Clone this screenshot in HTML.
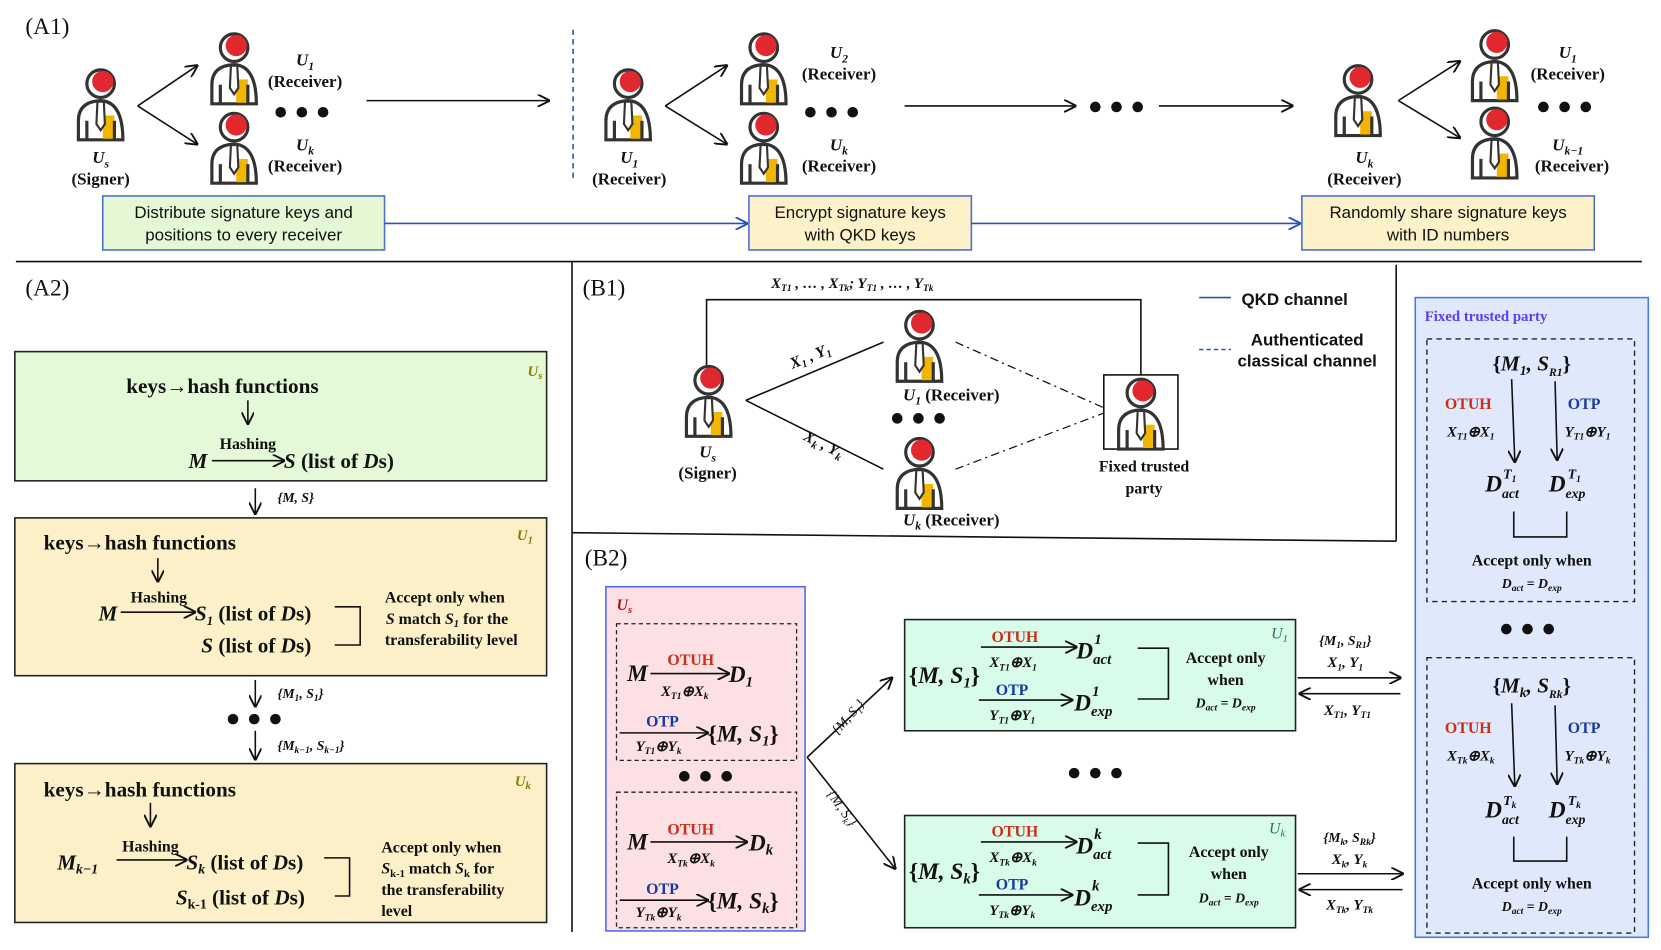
<!DOCTYPE html>
<html><head><meta charset="utf-8"><style>
html,body{margin:0;padding:0;background:#fff}
svg{display:block}
.s{font-family:"Liberation Serif",serif}
.b{font-weight:bold}
.i{font-style:italic}
.sa{font-family:"Liberation Sans",sans-serif}
</style></head><body>
<svg width="1661" height="950" viewBox="0 0 1568 897" preserveAspectRatio="none" xmlns="http://www.w3.org/2000/svg">
<defs>
<marker id="ar" viewBox="0 0 10 10" refX="9" refY="5" markerWidth="8" markerHeight="8" orient="auto-start-reverse"><path d="M0,0 L10,5 L0,10" fill="none" stroke="#111" stroke-width="1.5"/></marker>
<marker id="ab" viewBox="0 0 10 10" refX="9" refY="5" markerWidth="8" markerHeight="8" orient="auto"><path d="M0,0 L10,5 L0,10" fill="none" stroke="#2a4fc0" stroke-width="1.5"/></marker>
<g id="p">
<path d="M4,70 V52 Q4,34 25,33 Q46,34 46,70 Z" fill="#fff" stroke="#333" stroke-width="3"/>
<rect x="27" y="47" width="11" height="22" fill="#f2b600"/>
<line x1="12" y1="52" x2="12" y2="70" stroke="#333" stroke-width="3"/>
<line x1="38" y1="52" x2="38" y2="70" stroke="#333" stroke-width="3"/>
<path d="M22,34 L28,34 L29,55 L25,61 L21,55 Z" fill="#fff" stroke="#333" stroke-width="2"/>
<circle cx="25" cy="17" r="13" fill="#fff" stroke="#333" stroke-width="3"/>
<circle cx="27" cy="15" r="10" fill="#e0282e"/>
</g>
</defs>

<g class="s" font-size="16" fill="#111">
<!-- A1 -->
<text x="24" y="32" font-size="22">(A1)</text>
<use href="#p" x="70" y="62"/>
<text x="95" y="154" text-anchor="middle" class="b i">U<tspan font-size="11" dy="4">s</tspan></text>
<text x="95" y="174" text-anchor="middle" class="b">(Signer)</text>
<line x1="130" y1="100" x2="186" y2="62" stroke="#111" stroke-width="1.5" marker-end="url(#ar)"/>
<line x1="130" y1="100" x2="186" y2="136" stroke="#111" stroke-width="1.5" marker-end="url(#ar)"/>
<use href="#p" x="196" y="28"/>
<use href="#p" x="196" y="103"/>
<text x="288" y="62" text-anchor="middle" class="b i">U<tspan font-size="11" dy="4">1</tspan></text>
<text x="288" y="82" text-anchor="middle" class="b">(Receiver)</text>
<text x="288" y="142" text-anchor="middle" class="b i">U<tspan font-size="11" dy="4">k</tspan></text>
<text x="288" y="162" text-anchor="middle" class="b">(Receiver)</text>
<g fill="#111"><circle cx="265" cy="106" r="5"/><circle cx="285" cy="106" r="5"/><circle cx="305" cy="106" r="5"/></g>
<line x1="346" y1="95" x2="518" y2="95" stroke="#111" stroke-width="1.5" marker-end="url(#ar)"/>
<line x1="541" y1="28" x2="541" y2="172" stroke="#2a4fc0" stroke-width="1.5" stroke-dasharray="5,4"/>
<use href="#p" x="568" y="62"/>
<text x="594" y="154" text-anchor="middle" class="b i">U<tspan font-size="11" dy="4">1</tspan></text>
<text x="594" y="174" text-anchor="middle" class="b">(Receiver)</text>
<line x1="628" y1="100" x2="686" y2="62" stroke="#111" stroke-width="1.5" marker-end="url(#ar)"/>
<line x1="628" y1="100" x2="686" y2="136" stroke="#111" stroke-width="1.5" marker-end="url(#ar)"/>
<use href="#p" x="696" y="28"/>
<use href="#p" x="696" y="103"/>
<text x="792" y="55" text-anchor="middle" class="b i">U<tspan font-size="11" dy="4">2</tspan></text>
<text x="792" y="75" text-anchor="middle" class="b">(Receiver)</text>
<text x="792" y="142" text-anchor="middle" class="b i">U<tspan font-size="11" dy="4">k</tspan></text>
<text x="792" y="162" text-anchor="middle" class="b">(Receiver)</text>
<g fill="#111"><circle cx="765" cy="106" r="5"/><circle cx="785" cy="106" r="5"/><circle cx="805" cy="106" r="5"/></g>
<line x1="854" y1="100" x2="1015" y2="100" stroke="#111" stroke-width="1.5" marker-end="url(#ar)"/>
<g fill="#111"><circle cx="1034" cy="101" r="5"/><circle cx="1054" cy="101" r="5"/><circle cx="1074" cy="101" r="5"/></g>
<line x1="1094" y1="100" x2="1220" y2="100" stroke="#111" stroke-width="1.5" marker-end="url(#ar)"/>
<use href="#p" x="1257" y="58"/>
<text x="1288" y="154" text-anchor="middle" class="b i">U<tspan font-size="11" dy="4">k</tspan></text>
<text x="1288" y="174" text-anchor="middle" class="b">(Receiver)</text>
<line x1="1320" y1="95" x2="1378" y2="58" stroke="#111" stroke-width="1.5" marker-end="url(#ar)"/>
<line x1="1320" y1="95" x2="1378" y2="130" stroke="#111" stroke-width="1.5" marker-end="url(#ar)"/>
<use href="#p" x="1386" y="25"/>
<use href="#p" x="1386" y="98"/>
<text x="1480" y="55" text-anchor="middle" class="b i">U<tspan font-size="11" dy="4">1</tspan></text>
<text x="1480" y="75" text-anchor="middle" class="b">(Receiver)</text>
<text x="1480" y="142" text-anchor="middle" class="b i">U<tspan font-size="11" dy="4">k−1</tspan></text>
<text x="1484" y="162" text-anchor="middle" class="b">(Receiver)</text>
<g fill="#111"><circle cx="1457" cy="101" r="5"/><circle cx="1477" cy="101" r="5"/><circle cx="1497" cy="101" r="5"/></g>

<rect x="97" y="185" width="266" height="51" fill="#e4f8d6" stroke="#4a6fd0" stroke-width="1.5"/>
<text class="sa" font-size="16" x="230" y="206" text-anchor="middle">Distribute signature keys and</text>
<text class="sa" font-size="16" x="230" y="227" text-anchor="middle">positions to every receiver</text>
<line x1="363" y1="211" x2="705" y2="211" stroke="#2a4fc0" stroke-width="1.5" marker-end="url(#ab)"/>
<rect x="707" y="185" width="210" height="51" fill="#fcf1c9" stroke="#4a6fd0" stroke-width="1.5"/>
<text class="sa" font-size="16" x="812" y="206" text-anchor="middle">Encrypt signature keys</text>
<text class="sa" font-size="16" x="812" y="227" text-anchor="middle">with QKD keys</text>
<line x1="917" y1="211" x2="1227" y2="211" stroke="#2a4fc0" stroke-width="1.5" marker-end="url(#ab)"/>
<rect x="1229" y="185" width="276" height="51" fill="#fcf1c9" stroke="#4a6fd0" stroke-width="1.5"/>
<text class="sa" font-size="16" x="1367" y="206" text-anchor="middle">Randomly share signature keys</text>
<text class="sa" font-size="16" x="1367" y="227" text-anchor="middle">with ID numbers</text>

<line x1="15" y1="247" x2="1550" y2="247" stroke="#111" stroke-width="1.5"/>
<line x1="540" y1="247" x2="540" y2="880" stroke="#111" stroke-width="1.5"/>
<line x1="540" y1="503" x2="1318" y2="511" stroke="#111" stroke-width="1.5"/>
<line x1="1318" y1="250" x2="1318" y2="511" stroke="#111" stroke-width="1.5"/>

<!-- A2 -->
<text x="24" y="279" font-size="22">(A2)</text>
<rect x="14" y="332" width="502" height="122" fill="#e4f9d8" stroke="#222" stroke-width="1.5"/>
<text x="498" y="355" class="b i" font-size="14" fill="#8a7a00">U<tspan font-size="10" dy="3">s</tspan></text>
<text x="210" y="371" class="b" font-size="20" text-anchor="middle">keys→hash functions</text>
<line x1="234" y1="378" x2="234" y2="400" stroke="#111" stroke-width="1.5" marker-end="url(#ar)"/>
<text x="234" y="424" class="b" font-size="15" text-anchor="middle">Hashing</text>
<text x="178" y="442" class="b i" font-size="20">M</text>
<line x1="200" y1="435" x2="268" y2="435" stroke="#111" stroke-width="1.5" marker-end="url(#ar)"/>
<text x="268" y="442" class="b" font-size="20"><tspan class="i">S</tspan> (list of <tspan class="i">D</tspan>s)</text>
<line x1="241" y1="461" x2="241" y2="485" stroke="#111" stroke-width="1.5" marker-end="url(#ar)"/>
<text x="262" y="474" class="b i" font-size="13">{M, S}</text>

<rect x="14" y="489" width="502" height="149" fill="#fcf0c9" stroke="#222" stroke-width="1.5"/>
<text x="488" y="510" class="b i" font-size="14" fill="#8a7a00">U<tspan font-size="10" dy="3">1</tspan></text>
<text x="132" y="519" class="b" font-size="20" text-anchor="middle">keys→hash functions</text>
<line x1="149" y1="527" x2="149" y2="549" stroke="#111" stroke-width="1.5" marker-end="url(#ar)"/>
<text x="150" y="569" class="b" font-size="15" text-anchor="middle">Hashing</text>
<text x="93" y="586" class="b i" font-size="20">M</text>
<line x1="114" y1="578" x2="184" y2="578" stroke="#111" stroke-width="1.5" marker-end="url(#ar)"/>
<text x="184" y="586" class="b" font-size="20"><tspan class="i">S<tspan font-size="12" dy="4">1</tspan></tspan><tspan dy="-4"> (list of </tspan><tspan class="i">D</tspan>s)</text>
<text x="190" y="616" class="b" font-size="20"><tspan class="i">S</tspan> (list of <tspan class="i">D</tspan>s)</text>
<path d="M316,573 H340 V609 H316" fill="none" stroke="#111" stroke-width="1.5"/>
<text x="420" y="569" class="b" font-size="15" text-anchor="middle">Accept only when</text>
<text x="422" y="589" class="b" font-size="15" text-anchor="middle"><tspan class="i">S</tspan> match <tspan class="i">S<tspan font-size="10" dy="3">1</tspan></tspan><tspan dy="-3"> for the</tspan></text>
<text x="426" y="609" class="b" font-size="15" text-anchor="middle">transferability level</text>
<line x1="241" y1="642" x2="241" y2="667" stroke="#111" stroke-width="1.5" marker-end="url(#ar)"/>
<text x="262" y="659" class="b i" font-size="13">{M<tspan font-size="9" dy="3">1</tspan><tspan dy="-3">, S</tspan><tspan font-size="9" dy="3">1</tspan><tspan dy="-3">}</tspan></text>
<g fill="#111"><circle cx="220" cy="679" r="5"/><circle cx="240" cy="679" r="5"/><circle cx="260" cy="679" r="5"/></g>
<line x1="241" y1="690" x2="241" y2="717" stroke="#111" stroke-width="1.5" marker-end="url(#ar)"/>
<text x="262" y="708" class="b i" font-size="13">{M<tspan font-size="9" dy="3">k−1</tspan><tspan dy="-3">, S</tspan><tspan font-size="9" dy="3">k−1</tspan><tspan dy="-3">}</tspan></text>

<rect x="14" y="721" width="502" height="150" fill="#fcf0c9" stroke="#222" stroke-width="1.5"/>
<text x="486" y="742" class="b i" font-size="14" fill="#8a7a00">U<tspan font-size="10" dy="3">k</tspan></text>
<text x="132" y="752" class="b" font-size="20" text-anchor="middle">keys→hash functions</text>
<line x1="142" y1="758" x2="142" y2="780" stroke="#111" stroke-width="1.5" marker-end="url(#ar)"/>
<text x="142" y="804" class="b" font-size="15" text-anchor="middle">Hashing</text>
<text x="54" y="821" class="b i" font-size="20">M<tspan font-size="13" dy="4">k−1</tspan></text>
<line x1="110" y1="812" x2="176" y2="812" stroke="#111" stroke-width="1.5" marker-end="url(#ar)"/>
<text x="176" y="821" class="b" font-size="20"><tspan class="i">S<tspan font-size="13" dy="4">k</tspan></tspan><tspan dy="-4"> (list of </tspan><tspan class="i">D</tspan>s)</text>
<text x="166" y="854" class="b" font-size="20"><tspan class="i">S</tspan><tspan font-size="13" dy="4">k-1</tspan><tspan dy="-4"> (list of </tspan><tspan class="i">D</tspan>s)</text>
<path d="M306,810 H330 V846 H316" fill="none" stroke="#111" stroke-width="1.5"/>
<text x="360" y="805" class="b" font-size="15">Accept only when</text>
<text x="360" y="825" class="b" font-size="15"><tspan class="i">S</tspan><tspan font-size="10" dy="3">k-1</tspan><tspan dy="-3"> match </tspan><tspan class="i">S</tspan><tspan font-size="10" dy="3">k</tspan><tspan dy="-3"> for</tspan></text>
<text x="360" y="845" class="b" font-size="15">the transferability</text>
<text x="360" y="865" class="b" font-size="15">level</text>

<!-- B1 -->
<text x="550" y="279" font-size="22">(B1)</text>
<text x="728" y="272" class="b i" font-size="14">X<tspan font-size="9" dy="3">T1</tspan><tspan dy="-3"> , … , X</tspan><tspan font-size="9" dy="3">Tk</tspan><tspan dy="-3">; Y</tspan><tspan font-size="9" dy="3">T1</tspan><tspan dy="-3"> , … , Y</tspan><tspan font-size="9" dy="3">Tk</tspan></text>
<polyline points="667,345 667,283 1077,283 1077,355" fill="none" stroke="#111" stroke-width="1.5"/>
<use href="#p" x="644" y="342"/>
<text x="668" y="432" text-anchor="middle" class="b i">U<tspan font-size="11" dy="4">s</tspan></text>
<text x="668" y="452" text-anchor="middle" class="b">(Signer)</text>
<line x1="704" y1="378" x2="834" y2="323" stroke="#111" stroke-width="1.5"/>
<line x1="704" y1="378" x2="834" y2="443" stroke="#111" stroke-width="1.5"/>
<text x="745" y="343" class="b i" font-size="15" transform="rotate(-22 760 338)">X<tspan font-size="10" dy="3">1</tspan><tspan dy="-3"> , Y</tspan><tspan font-size="10" dy="3">1</tspan></text>
<text x="752" y="422" class="b i" font-size="15" transform="rotate(27 770 430)">X<tspan font-size="10" dy="3">k</tspan><tspan dy="-3"> , Y</tspan><tspan font-size="10" dy="3">k</tspan></text>
<use href="#p" x="843" y="290"/>
<use href="#p" x="843" y="410"/>
<text x="898" y="378" text-anchor="middle" class="b i">U<tspan font-size="11" dy="4">1</tspan><tspan class="b" font-style="normal" font-size="16" dy="-4"> (Receiver)</tspan></text>
<text x="898" y="496" text-anchor="middle" class="b i">U<tspan font-size="11" dy="4">k</tspan><tspan class="b" font-style="normal" font-size="16" dy="-4"> (Receiver)</tspan></text>
<g fill="#111"><circle cx="847" cy="395" r="5"/><circle cx="867" cy="395" r="5"/><circle cx="887" cy="395" r="5"/></g>
<line x1="902" y1="323" x2="1042" y2="385" stroke="#111" stroke-width="1.2" stroke-dasharray="8,4,2,4"/>
<line x1="902" y1="443" x2="1042" y2="390" stroke="#111" stroke-width="1.2" stroke-dasharray="8,4,2,4"/>
<rect x="1042" y="354" width="70" height="70" fill="#fff" stroke="#111" stroke-width="1.5"/>
<use href="#p" x="1052" y="354"/>
<text x="1080" y="445" text-anchor="middle" class="b" font-size="15">Fixed trusted</text>
<text x="1080" y="466" text-anchor="middle" class="b" font-size="15">party</text>
<line x1="1132" y1="281" x2="1162" y2="281" stroke="#2a4fc0" stroke-width="1.5"/>
<text x="1172" y="288" class="sa b" font-size="16">QKD channel</text>
<line x1="1132" y1="330" x2="1162" y2="330" stroke="#2a4fc0" stroke-width="1.5" stroke-dasharray="4,3"/>
<text x="1234" y="326" class="sa b" font-size="16" text-anchor="middle">Authenticated</text>
<text x="1234" y="346" class="sa b" font-size="16" text-anchor="middle">classical channel</text>

<!-- fixed trusted party -->
<rect x="1336" y="281" width="220" height="604" fill="#dfe9fb" stroke="#4a7ae8" stroke-width="1.5"/>
<text x="1345" y="303" class="b" font-size="14" fill="#5a3ef0">Fixed trusted party</text>
<rect x="1347" y="320" width="196" height="248" fill="none" stroke="#222" stroke-width="1.3" stroke-dasharray="5,4"/>
<text x="1446" y="350" class="b i" font-size="20" text-anchor="middle"><tspan font-style="normal">{</tspan>M<tspan font-size="13" dy="4">1</tspan><tspan dy="-4">, S</tspan><tspan font-size="11" dy="5">R1</tspan><tspan dy="-5" font-style="normal">}</tspan></text>
<line x1="1427" y1="358" x2="1430" y2="436" stroke="#111" stroke-width="1.5" marker-end="url(#ar)"/>
<line x1="1468" y1="360" x2="1470" y2="434" stroke="#111" stroke-width="1.5" marker-end="url(#ar)"/>
<text x="1364" y="386" class="b" font-size="15" fill="#c8301c">OTUH</text>
<text x="1480" y="386" class="b" font-size="15" fill="#1a3aa0">OTP</text>
<text x="1366" y="412" class="b i" font-size="14">X<tspan font-size="9" dy="3">T1</tspan><tspan dy="-3">⊕X</tspan><tspan font-size="9" dy="3">1</tspan></text>
<text x="1477" y="412" class="b i" font-size="14">Y<tspan font-size="9" dy="3">T1</tspan><tspan dy="-3">⊕Y</tspan><tspan font-size="9" dy="3">1</tspan></text>
<text x="1402" y="464" class="b i" font-size="22">D<tspan font-size="13" dy="6">act</tspan></text>
<text x="1419" y="452" class="b i" font-size="13">T<tspan font-size="9" dy="3">1</tspan></text>
<text x="1462" y="464" class="b i" font-size="22">D<tspan font-size="13" dy="6">exp</tspan></text>
<text x="1480" y="452" class="b i" font-size="13">T<tspan font-size="9" dy="3">1</tspan></text>
<polyline points="1429,483 1429,507 1479,507 1479,483" fill="none" stroke="#111" stroke-width="1.5"/>
<text x="1446" y="534" class="b" font-size="15" text-anchor="middle">Accept only when</text>
<text x="1446" y="555" class="b i" font-size="13" text-anchor="middle">D<tspan font-size="9" dy="3">act</tspan><tspan dy="-3" font-style="normal"> = </tspan>D<tspan font-size="9" dy="3">exp</tspan></text>
<g fill="#111"><circle cx="1422" cy="594" r="5"/><circle cx="1442" cy="594" r="5"/><circle cx="1462" cy="594" r="5"/></g>
<rect x="1347" y="621" width="196" height="260" fill="none" stroke="#222" stroke-width="1.3" stroke-dasharray="5,4"/>
<text x="1446" y="654" class="b i" font-size="20" text-anchor="middle"><tspan font-style="normal">{</tspan>M<tspan font-size="13" dy="4">k</tspan><tspan dy="-4">, S</tspan><tspan font-size="11" dy="5">Rk</tspan><tspan dy="-5" font-style="normal">}</tspan></text>
<line x1="1427" y1="664" x2="1430" y2="742" stroke="#111" stroke-width="1.5" marker-end="url(#ar)"/>
<line x1="1468" y1="666" x2="1470" y2="740" stroke="#111" stroke-width="1.5" marker-end="url(#ar)"/>
<text x="1364" y="692" class="b" font-size="15" fill="#c8301c">OTUH</text>
<text x="1480" y="692" class="b" font-size="15" fill="#1a3aa0">OTP</text>
<text x="1366" y="718" class="b i" font-size="14">X<tspan font-size="9" dy="3">Tk</tspan><tspan dy="-3">⊕X</tspan><tspan font-size="9" dy="3">k</tspan></text>
<text x="1477" y="718" class="b i" font-size="14">Y<tspan font-size="9" dy="3">Tk</tspan><tspan dy="-3">⊕Y</tspan><tspan font-size="9" dy="3">k</tspan></text>
<text x="1402" y="772" class="b i" font-size="22">D<tspan font-size="13" dy="6">act</tspan></text>
<text x="1419" y="760" class="b i" font-size="13">T<tspan font-size="9" dy="3">k</tspan></text>
<text x="1462" y="772" class="b i" font-size="22">D<tspan font-size="13" dy="6">exp</tspan></text>
<text x="1480" y="760" class="b i" font-size="13">T<tspan font-size="9" dy="3">k</tspan></text>
<polyline points="1429,790 1429,813 1479,813 1479,790" fill="none" stroke="#111" stroke-width="1.5"/>
<text x="1446" y="839" class="b" font-size="15" text-anchor="middle">Accept only when</text>
<text x="1446" y="860" class="b i" font-size="13" text-anchor="middle">D<tspan font-size="9" dy="3">act</tspan><tspan dy="-3" font-style="normal"> = </tspan>D<tspan font-size="9" dy="3">exp</tspan></text>

<!-- B2 -->
<text x="552" y="534" font-size="22">(B2)</text>
<rect x="572" y="554" width="188" height="325" fill="#fde0e3" stroke="#4a6fe8" stroke-width="1.5"/>
<text x="582" y="576" class="b i" font-size="15" fill="#a01818">U<tspan font-size="10" dy="3">s</tspan></text>
<rect x="582" y="589" width="170" height="129" fill="none" stroke="#222" stroke-width="1.2" stroke-dasharray="4,3"/>
<text x="592" y="643" class="b i" font-size="22">M</text>
<line x1="614" y1="636" x2="688" y2="636" stroke="#111" stroke-width="1.5" marker-end="url(#ar)"/>
<text x="630" y="628" class="b" font-size="15" fill="#c8301c">OTUH</text>
<text x="624" y="657" class="b i" font-size="14">X<tspan font-size="9" dy="3">T1</tspan><tspan dy="-3">⊕X</tspan><tspan font-size="9" dy="3">k</tspan></text>
<text x="688" y="644" class="b i" font-size="22">D<tspan font-size="14" dy="4">1</tspan></text>
<line x1="585" y1="692" x2="668" y2="692" stroke="#111" stroke-width="1.5" marker-end="url(#ar)"/>
<text x="610" y="686" class="b" font-size="15" fill="#1a3aa0">OTP</text>
<text x="600" y="709" class="b i" font-size="14">Y<tspan font-size="9" dy="3">T1</tspan><tspan dy="-3">⊕Y</tspan><tspan font-size="9" dy="3">k</tspan></text>
<text x="668" y="700" class="b i" font-size="22"><tspan font-style="normal">{</tspan>M, S<tspan font-size="14" dy="4">1</tspan><tspan dy="-4" font-style="normal">}</tspan></text>
<g fill="#111"><circle cx="646" cy="733" r="5"/><circle cx="666" cy="733" r="5"/><circle cx="686" cy="733" r="5"/></g>
<rect x="582" y="748" width="170" height="128" fill="none" stroke="#222" stroke-width="1.2" stroke-dasharray="4,3"/>
<text x="592" y="802" class="b i" font-size="22">M</text>
<line x1="614" y1="795" x2="705" y2="795" stroke="#111" stroke-width="1.5" marker-end="url(#ar)"/>
<text x="630" y="788" class="b" font-size="15" fill="#c8301c">OTUH</text>
<text x="630" y="815" class="b i" font-size="14">X<tspan font-size="9" dy="3">Tk</tspan><tspan dy="-3">⊕X</tspan><tspan font-size="9" dy="3">k</tspan></text>
<text x="707" y="803" class="b i" font-size="22">D<tspan font-size="14" dy="4">k</tspan></text>
<line x1="585" y1="850" x2="668" y2="850" stroke="#111" stroke-width="1.5" marker-end="url(#ar)"/>
<text x="610" y="844" class="b" font-size="15" fill="#1a3aa0">OTP</text>
<text x="600" y="866" class="b i" font-size="14">Y<tspan font-size="9" dy="3">Tk</tspan><tspan dy="-3">⊕Y</tspan><tspan font-size="9" dy="3">k</tspan></text>
<text x="668" y="858" class="b i" font-size="22"><tspan font-style="normal">{</tspan>M, S<tspan font-size="14" dy="4">k</tspan><tspan dy="-4" font-style="normal">}</tspan></text>

<line x1="762" y1="715" x2="842" y2="640" stroke="#111" stroke-width="1.5" marker-end="url(#ar)"/>
<line x1="762" y1="715" x2="845" y2="820" stroke="#111" stroke-width="1.5" marker-end="url(#ar)"/>
<text x="780" y="690" class="i" font-size="13" transform="rotate(-48 790 680)">{M, S<tspan font-size="9" dy="3">1</tspan><tspan dy="-3">}</tspan></text>
<text x="770" y="760" class="i" font-size="13" transform="rotate(55 785 765)">{M, S<tspan font-size="9" dy="3">k</tspan><tspan dy="-3">}</tspan></text>

<g>
<rect x="854" y="585" width="369" height="105" fill="#d8fbea" stroke="#222" stroke-width="1.5"/>
<text x="1200" y="603" class="i" font-size="15" fill="#1f7a50">U<tspan font-size="10" dy="3">1</tspan></text>
<text x="858" y="645" class="b i" font-size="22"><tspan font-style="normal">{</tspan>M, S<tspan font-size="14" dy="4">1</tspan><tspan dy="-4" font-style="normal">}</tspan></text>
<line x1="926" y1="611" x2="1016" y2="611" stroke="#111" stroke-width="1.5" marker-end="url(#ar)"/>
<text x="936" y="606" class="b" font-size="15" fill="#c8301c">OTUH</text>
<text x="934" y="630" class="b i" font-size="14">X<tspan font-size="9" dy="3">T1</tspan><tspan dy="-3">⊕X</tspan><tspan font-size="9" dy="3">1</tspan></text>
<text x="1016" y="622" class="b i" font-size="22">D<tspan font-size="14" dy="5">act</tspan></text>
<text x="1033" y="608" class="b i" font-size="14">1</text>
<line x1="924" y1="661" x2="1012" y2="661" stroke="#111" stroke-width="1.5" marker-end="url(#ar)"/>
<text x="940" y="656" class="b" font-size="15" fill="#1a3aa0">OTP</text>
<text x="934" y="680" class="b i" font-size="14">Y<tspan font-size="9" dy="3">T1</tspan><tspan dy="-3">⊕Y</tspan><tspan font-size="9" dy="3">1</tspan></text>
<text x="1014" y="671" class="b i" font-size="22">D<tspan font-size="14" dy="5">exp</tspan></text>
<text x="1031" y="657" class="b i" font-size="14">1</text>
<path d="M1074,612 H1103 V660 H1074" fill="none" stroke="#111" stroke-width="1.5"/>
<text x="1157" y="626" class="b" font-size="15" text-anchor="middle">Accept only</text>
<text x="1157" y="647" class="b" font-size="15" text-anchor="middle">when</text>
<text x="1157" y="668" class="b i" font-size="13" text-anchor="middle">D<tspan font-size="9" dy="3">act</tspan><tspan dy="-3" font-style="normal"> = </tspan>D<tspan font-size="9" dy="3">exp</tspan></text>
</g>
<g fill="#111"><circle cx="1014" cy="730" r="5"/><circle cx="1034" cy="730" r="5"/><circle cx="1054" cy="730" r="5"/></g>
<g>
<rect x="854" y="770" width="369" height="106" fill="#d8fbea" stroke="#222" stroke-width="1.5"/>
<text x="1198" y="787" class="i" font-size="15" fill="#1f7a50">U<tspan font-size="10" dy="3">k</tspan></text>
<text x="858" y="830" class="b i" font-size="22"><tspan font-style="normal">{</tspan>M, S<tspan font-size="14" dy="4">k</tspan><tspan dy="-4" font-style="normal">}</tspan></text>
<line x1="926" y1="795" x2="1016" y2="795" stroke="#111" stroke-width="1.5" marker-end="url(#ar)"/>
<text x="936" y="790" class="b" font-size="15" fill="#c8301c">OTUH</text>
<text x="934" y="814" class="b i" font-size="14">X<tspan font-size="9" dy="3">Tk</tspan><tspan dy="-3">⊕X</tspan><tspan font-size="9" dy="3">k</tspan></text>
<text x="1016" y="806" class="b i" font-size="22">D<tspan font-size="14" dy="5">act</tspan></text>
<text x="1033" y="792" class="b i" font-size="14">k</text>
<line x1="924" y1="845" x2="1012" y2="845" stroke="#111" stroke-width="1.5" marker-end="url(#ar)"/>
<text x="940" y="840" class="b" font-size="15" fill="#1a3aa0">OTP</text>
<text x="934" y="864" class="b i" font-size="14">Y<tspan font-size="9" dy="3">Tk</tspan><tspan dy="-3">⊕Y</tspan><tspan font-size="9" dy="3">k</tspan></text>
<text x="1014" y="855" class="b i" font-size="22">D<tspan font-size="14" dy="5">exp</tspan></text>
<text x="1031" y="841" class="b i" font-size="14">k</text>
<path d="M1074,796 H1103 V845 H1074" fill="none" stroke="#111" stroke-width="1.5"/>
<text x="1160" y="809" class="b" font-size="15" text-anchor="middle">Accept only</text>
<text x="1160" y="830" class="b" font-size="15" text-anchor="middle">when</text>
<text x="1160" y="852" class="b i" font-size="13" text-anchor="middle">D<tspan font-size="9" dy="3">act</tspan><tspan dy="-3" font-style="normal"> = </tspan>D<tspan font-size="9" dy="3">exp</tspan></text>
</g>

<line x1="1225" y1="640" x2="1322" y2="640" stroke="#111" stroke-width="1.5" marker-end="url(#ar)"/>
<line x1="1322" y1="655" x2="1227" y2="655" stroke="#111" stroke-width="1.5" marker-end="url(#ar)"/>
<text x="1270" y="609" class="b i" font-size="13" text-anchor="middle">{M<tspan font-size="9" dy="3">1</tspan><tspan dy="-3">, S</tspan><tspan font-size="9" dy="3">R1</tspan><tspan dy="-3">}</tspan></text>
<text x="1270" y="630" class="b i" font-size="14" text-anchor="middle">X<tspan font-size="9" dy="3">1</tspan><tspan dy="-3">, Y</tspan><tspan font-size="9" dy="3">1</tspan></text>
<text x="1272" y="675" class="b i" font-size="14" text-anchor="middle">X<tspan font-size="9" dy="3">T1</tspan><tspan dy="-3">, Y</tspan><tspan font-size="9" dy="3">T1</tspan></text>
<line x1="1225" y1="825" x2="1324" y2="825" stroke="#111" stroke-width="1.5" marker-end="url(#ar)"/>
<line x1="1324" y1="840" x2="1227" y2="840" stroke="#111" stroke-width="1.5" marker-end="url(#ar)"/>
<text x="1274" y="795" class="b i" font-size="13" text-anchor="middle">{M<tspan font-size="9" dy="3">k</tspan><tspan dy="-3">, S</tspan><tspan font-size="9" dy="3">Rk</tspan><tspan dy="-3">}</tspan></text>
<text x="1274" y="816" class="b i" font-size="14" text-anchor="middle">X<tspan font-size="9" dy="3">k</tspan><tspan dy="-3">, Y</tspan><tspan font-size="9" dy="3">k</tspan></text>
<text x="1274" y="859" class="b i" font-size="14" text-anchor="middle">X<tspan font-size="9" dy="3">Tk</tspan><tspan dy="-3">, Y</tspan><tspan font-size="9" dy="3">Tk</tspan></text>
</g>
</svg>
</body></html>
